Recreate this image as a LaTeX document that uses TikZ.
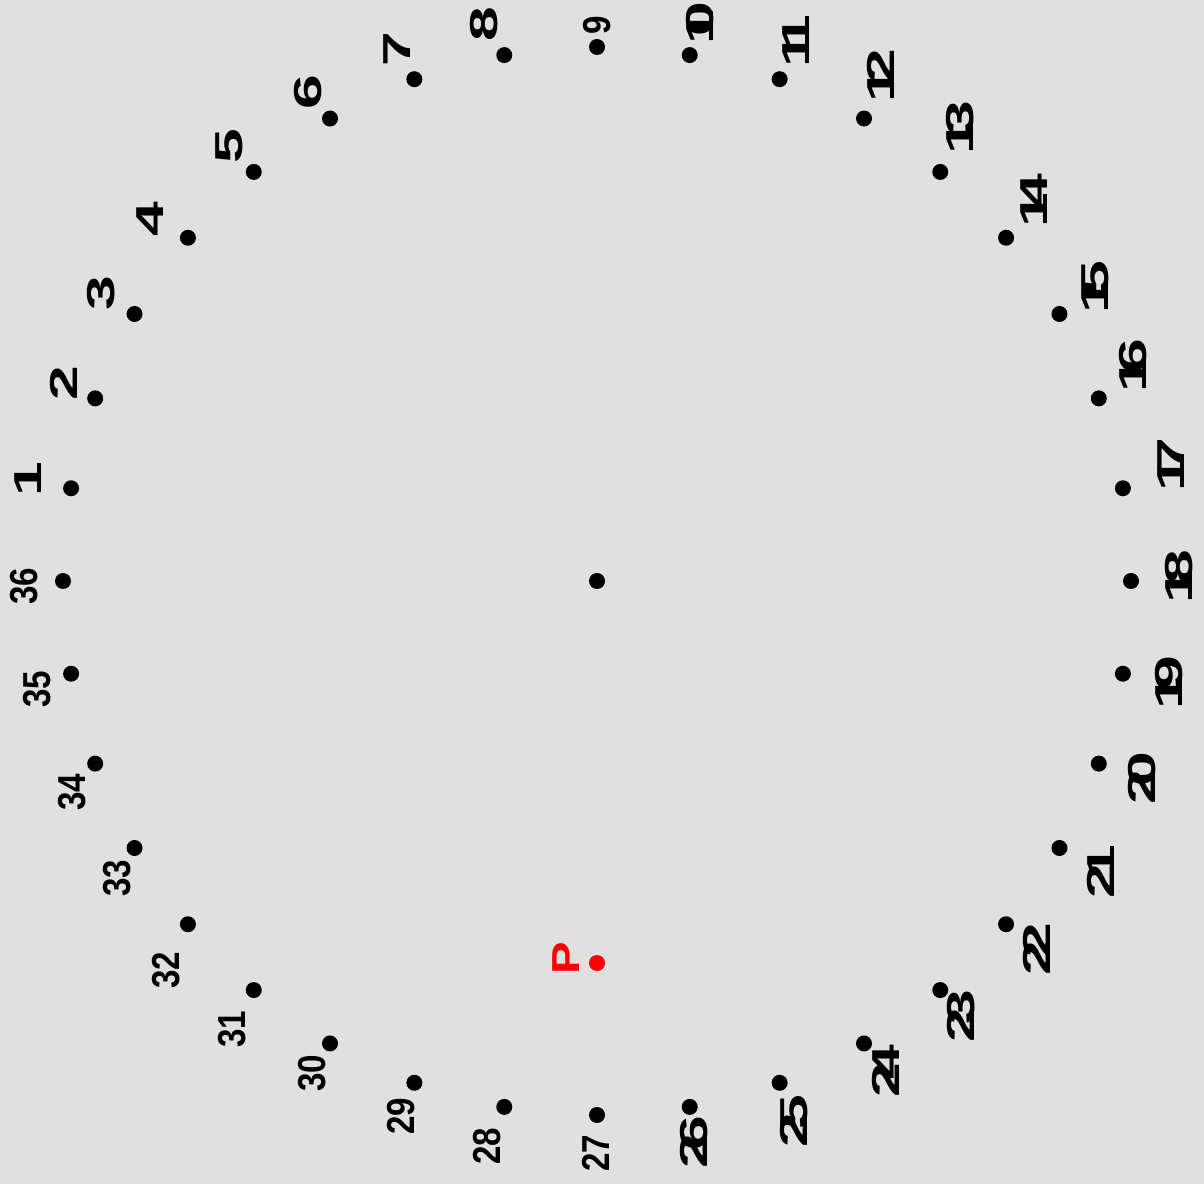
\documentclass[tikz,border=0pt]{standalone}
\usepackage{fontspec}
\setmainfont{Liberation Sans}
\usepackage{tikz}
\usetikzlibrary{positioning, calc}
\definecolor{DialGray}{RGB}{224,224,224}
\definecolor{DialRed}{RGB}{255,0,0}
\newcommand{\widedigit}[1]{\scalebox{1.6}[1]{#1}}
\newcommand{\widepair}[2]{\makebox[0.47em][l]{\widedigit{#1}}\widedigit{#2}}
\newcommand{\narrowlbl}[1]{\scalebox{0.85}[1]{#1}}

\begin{document}
\begin{tikzpicture}[x=0.5pt,y=0.5pt,
  dotmark/.style={circle, fill=black, inner sep=0pt, minimum size=8pt},
  numlbl/.style={rotate=90, inner sep=0pt, font=\fontsize{19.5}{20}\selectfont\bfseries}]
  \path[use as bounding box] (0,0) rectangle (1204,1184);
  \fill[DialGray] (0,0) rectangle (1204,1184);
  % dial of 36 points
  \node[dotmark] (ctr) at (597,603) {};
  \foreach \k in {1,...,36}{
    \node[dotmark] (d\k) at ($(ctr)+({180-10*\k}:534)$) {};
  }
  % numbers
  \foreach \k/\lx/\ly in {1/28/705, 2/64/801, 3/101/891, 4/150/965,
                          5/229/1037.5, 6/308/1091.5, 7/397/1135, 8/484/1159.5}{
    \node[numlbl] (lbl\k) at (\lx,\ly) {\widedigit{\k}};
  }
  \node[numlbl] (lbl9) at (597,1159) {\narrowlbl{9}};
  \node[numlbl] (lbl10) at (700,1161) {\makebox[0.2em][l]{\widedigit{1}}\widedigit{0}};
  \foreach \k/\lx/\ly in {11/796/1143, 12/881/1108.5, 13/960/1056.5,
                          14/1034/983.5, 15/1095/897, 16/1133/818.5, 17/1171/719.5,
                          18/1179/607.5, 19/1169/501.5, 20/1142/406, 21/1101/312.5,
                          22/1036.5/235, 23/961.5/168, 24/886/113, 25/794/63, 26/694/42}{
    \node[numlbl] (lbl\k) at (\lx,\ly) {\expandafter\widepair\k};
  }
  \foreach \k/\lx/\ly in {27/596/30.5, 28/487.5/37.5, 29/401/67.5, 30/312/111,
                          31/232/155, 32/166/214, 33/117/305.5, 34/72/391.5,
                          35/37.5/494.5, 36/24.5/598}{
    \node[numlbl] (lbl\k) at (\lx,\ly) {\narrowlbl{\k}};
  }
  % marked point
  \node[dotmark, fill=DialRed] (p) at (597,221) {};
  \node[numlbl, text=DialRed] (plbl) at (566.5,225.5) {\scalebox{1.25}[1]{P}};
\end{tikzpicture}
\end{document}
